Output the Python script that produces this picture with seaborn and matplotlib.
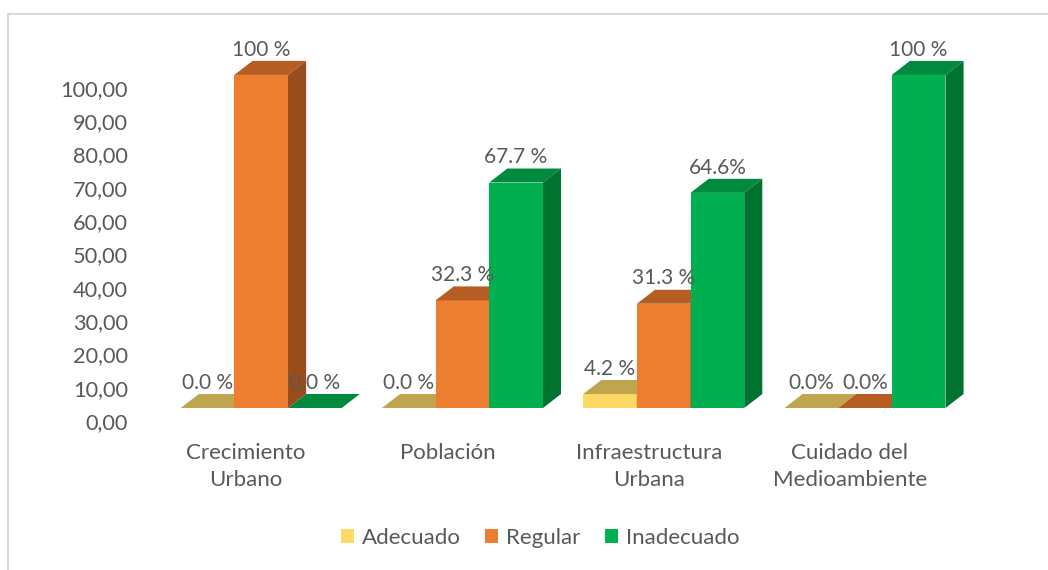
import numpy as np
import pandas as pd
import matplotlib
matplotlib.use("Agg")
import matplotlib.pyplot as plt
import matplotlib.transforms as mtransforms
from matplotlib.lines import Line2D
from matplotlib.patches import Patch
import seaborn as sns

categories = ["Crecimiento\nUrbano", "Población", "Infraestructura\nUrbana",
              "Cuidado del\nMedioambiente"]
levels = ["Adecuado", "Regular", "Inadecuado"]
adecuado = [0.0, 0.0, 4.2, 0.0]
regular = [100.0, 32.3, 31.3, 0.0]
inadecuado = [0.0, 67.7, 64.6, 100.0]
value_labels = {
    "Adecuado": ["0.0 %", "0.0 %", "4.2 %", "0.0%"],
    "Regular": ["100 %", "32.3 %", "31.3 %", "0.0%"],
    "Inadecuado": ["0.0 %", "67.7 %", "64.6%", "100 %"],
}
yticks = np.arange(0, 101, 10)

front = {"Adecuado": "#FFD966", "Regular": "#ED7D31", "Inadecuado": "#00B050"}
top = {"Adecuado": "#BFA64E", "Regular": "#B55D23", "Inadecuado": "#008A3E"}
side = {"Adecuado": "#A88F3A", "Regular": "#9A4D1C", "Inadecuado": "#00742F"}
text_color = "#595959"

df = pd.DataFrame({
    "categoria": np.repeat(categories, 3),
    "nivel": levels * len(categories),
    "valor": np.ravel(np.column_stack([adecuado, regular, inadecuado])),
})

sns.set_style("white")
plt.rcParams["font.family"] = ["Lato", "DejaVu Sans"]

fig = plt.figure(figsize=(10.48, 5.70), dpi=100)
ax = fig.add_axes([0.134, 0.255, 0.82, 0.672])

sns.barplot(data=df, x="categoria", y="valor", hue="nivel", hue_order=levels,
            palette=front, width=0.8, saturation=1, errorbar=None,
            legend=False, ax=ax)

ax.set_xlim(-0.6, 3.67)
ax.set_ylim(-5, 110)

# 3D depth of the bars (data units)
dx, dy = 0.09, 4.2
for lvl, cont in zip(levels, ax.containers):
    for i, p in enumerate(cont.patches):
        x0 = p.get_x()
        w = p.get_width()
        h = p.get_height()
        z = 2 + (p.get_x() + 10) * 3
        p.set_zorder(z)
        p.set_edgecolor("none")
        ax.fill([x0, x0 + w, x0 + w + dx, x0 + dx], [h, h, h + dy, h + dy],
                color=top[lvl], lw=0, zorder=z)
        if h > 0:
            ax.fill([x0 + w, x0 + w + dx, x0 + w + dx, x0 + w],
                    [0, dy, h + dy, h], color=side[lvl], lw=0, zorder=z)
        ax.annotate(value_labels[lvl][i], (x0 + w / 2, h), xytext=(0, 11),
                    textcoords="offset points", ha="center", va="bottom",
                    fontsize=15, color=text_color, zorder=100)

ax.set_yticks(yticks)
ax.set_yticklabels([f"{v:.2f}".replace(".", ",") for v in yticks])
ax.tick_params(axis="y", length=0, labelsize=15.7, labelcolor=text_color, pad=9)
ax.tick_params(axis="x", length=0, labelsize=16, labelcolor=text_color, pad=13)
shift_y = mtransforms.ScaledTranslation(0, -13 / 100, fig.dpi_scale_trans)
for lab in ax.get_yticklabels():
    lab.set_transform(lab.get_transform() + shift_y)
shift_x = mtransforms.ScaledTranslation(-15 / 100, 0, fig.dpi_scale_trans)
for lab in ax.get_xticklabels():
    lab.set_transform(lab.get_transform() + shift_x)
    lab.set_linespacing(1.45)
ax.set_xlabel("")
ax.set_ylabel("")
sns.despine(ax=ax, left=True, bottom=True)

handles = [Patch(facecolor=front[l], edgecolor="none", label=l) for l in levels]
fig.legend(handles=handles, loc="center", bbox_to_anchor=(540 / 1048, 1 - 538 / 570),
           ncol=3, frameon=False, fontsize=16, labelcolor=text_color,
           handlelength=0.6, handleheight=0.6, handletextpad=0.35, columnspacing=1.1)

# chart frame (top and left edges only)
fig.add_artist(Line2D([8 / 1048, 1], [1 - 14 / 570, 1 - 14 / 570],
                      transform=fig.transFigure, color="#D9D9D9", lw=1.5))
fig.add_artist(Line2D([8 / 1048, 8 / 1048], [0, 1 - 14 / 570],
                      transform=fig.transFigure, color="#D9D9D9", lw=1.5))

fig.savefig("out.png", dpi=100)
